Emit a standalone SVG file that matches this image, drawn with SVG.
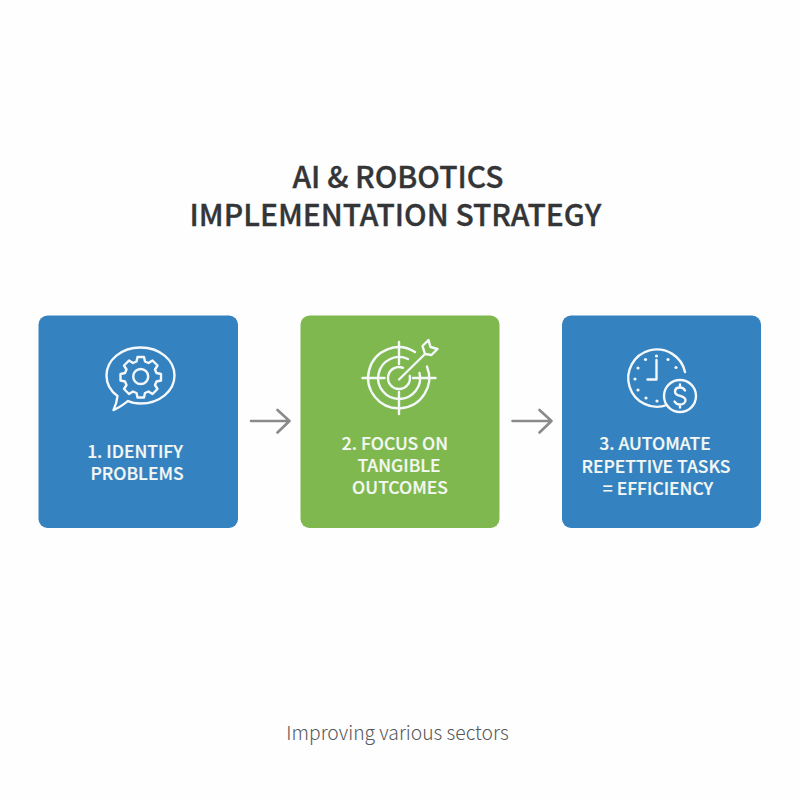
<svg xmlns="http://www.w3.org/2000/svg" width="800" height="800" viewBox="0 0 800 800">
<style>
text{font-family:"Noto Sans CJK SC","Noto Sans",sans-serif;text-anchor:middle}
.title{font-size:30px;font-weight:500;fill:#333537;stroke:#333537;stroke-width:.35}
.lbl{font-size:17.500px;font-weight:500;fill:#f4f8f4;stroke:#f4f8f4;stroke-width:.2}
.sub{font-size:19.300px;font-weight:300;fill:#55575a}
.ic{fill:none;stroke:#f4f8fa;stroke-width:2.4;stroke-linecap:round;stroke-linejoin:round}
.blue{fill:#3582c0}
.green{fill:#7fb84f}
.arr{fill:none;stroke:#8a8a8a;stroke-width:2.6;stroke-linecap:round;stroke-linejoin:round}
</style>
<rect width="800" height="800" fill="#fefefe"/>
<g id="title">
<text class="title" x="398" y="188">AI &amp; ROBOTICS</text>
<text class="title" x="395.500" y="226">IMPLEMENTATION STRATEGY</text>
</g>
<g id="node1">
<rect class="blue" x="38.500" y="315.500" width="199.500" height="212.500" rx="9"/>
<path class="ic" d="M113.500 410 C119 408 124 404 128 401 C132 403 136 403.500 140.500 403.500 C159.500 403.500 174.500 391 174.500 375.500 C174.500 360 159.500 347.500 140.500 347.500 C121.500 347.500 106.500 360 106.500 375.500 C106.500 384 110.500 391 117.500 396 C117 401 115.500 406 113.500 410Z"/>
<circle class="ic" cx="140.700" cy="376.500" r="7.500"/>
<path class="ic" d="M137.500 357h6.500l1 4.500 3.500 1.500 4-2.500 5 5-2.500 4 1.500 3.500 4.500 1v6.500l-4.500 1-1.500 3.500 2.500 4-5 5-4-2.500-3.500 1.500-1 4.500h-6.500l-1-4.500-3.500-1.500-4 2.500-5-5 2.500-4-1.500-3.500-4.500-1v-6.500l4.500-1 1.500-3.500-2.500-4 5-5 4 2.500 3.500-1.500z"/>
<text class="lbl" x="135" y="458">1. IDENTIFY</text>
<text class="lbl" x="137" y="480">PROBLEMS</text>
</g>
<g id="node2">
<rect class="green" x="300.500" y="315.500" width="199" height="212.500" rx="9"/>
<g class="ic">
<path d="M427 366.500A30.500 30.500 0 1 1 415 352"/>
<path d="M419.500 373A21 21 0 1 1 408 359"/>
<path d="M409.800 376A11 11 0 1 1 403 367.800"/>
<path d="M399 342v22M399 392v22M362.500 378h22M413 378h22.500"/>
<path d="M399 379.500L425 354"/>
<path d="M425 354l-2.500-8 6-6 2 7 7 2-6 6z"/>
</g>
<text class="lbl" x="395" y="450">2. FOCUS ON</text>
<text class="lbl" x="399" y="472">TANGIBLE</text>
<text class="lbl" x="400" y="494">OUTCOMES</text>
</g>
<g id="node3">
<rect class="blue" x="562" y="315.500" width="199" height="212.500" rx="9"/>
<g class="ic">
<path d="M685 372A28.700 28.700 0 1 0 667 405"/>
<path d="M656.500 360v19.500h-9"/>
<circle cx="680" cy="396" r="16"/>
<path d="M685 390.500c-1-2-3-3-5-3-3 0-5 1.700-5 4.200 0 5.500 10.500 3 10.500 8.500 0 2.500-2.500 4.300-5.500 4.300-2.500 0-4.500-1-5.500-3M680 384.500v3M680 404.500v3"/>
</g>
<g fill="#f4f8fa">
<circle cx="656.500" cy="356" r="1.600"/><circle cx="668" cy="359.500" r="1.600"/><circle cx="676" cy="367.500" r="1.600"/><circle cx="635" cy="379" r="1.600"/><circle cx="638" cy="368" r="1.600"/><circle cx="645.500" cy="359.500" r="1.600"/><circle cx="638" cy="390" r="1.600"/><circle cx="646" cy="398" r="1.600"/><circle cx="657" cy="401" r="1.600"/>
</g>
<text class="lbl" x="655" y="450">3. AUTOMATE</text>
<text class="lbl" x="656" y="473">REPETTIVE TASKS</text>
<text class="lbl" x="658" y="495">= EFFICIENCY</text>
</g>
<g id="connectors">
<path class="arr" d="M251 421H289.500M277.500 410L289.500 421L277.500 432.500"/>
<path class="arr" d="M512.500 421H551.500M539.500 410L551.500 421L539.500 432.500"/>
</g>
<g id="footer">
<text class="sub" x="397.500" y="740">Improving various sectors</text>
</g>
</svg>
